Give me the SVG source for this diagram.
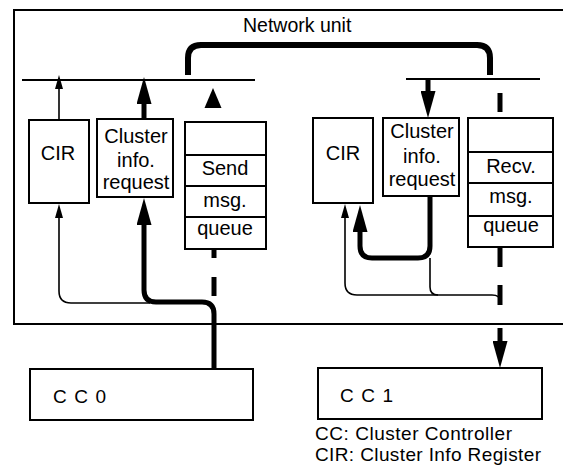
<svg xmlns="http://www.w3.org/2000/svg" width="563" height="465" viewBox="0 0 563 465">
  <style>
    .box { fill: #fff; stroke: #000; stroke-width: 2; }
    .frame { fill: none; stroke: #000; stroke-width: 2; }
    .bus { stroke: #000; stroke-width: 2; fill: none; }
    .thin { stroke: #000; stroke-width: 1.6; fill: none; }
    .thick { stroke: #000; stroke-width: 5; fill: none; }
    .net { stroke: #000; stroke-width: 6; fill: none; stroke-linecap: butt; }
    .lbl { font-family: "Liberation Sans", Arial, sans-serif; font-size: 20px; fill: #000; }
    .mid { text-anchor: middle; }
    .cc { letter-spacing: 7.5px; font-size: 19px; }
    .key { font-size: 19px; }
  </style>
  <defs>
    <marker id="headThin" viewBox="0 0 14 8" refX="0" refY="4" markerWidth="14" markerHeight="8" markerUnits="userSpaceOnUse" orient="auto">
      <path d="M0,0 L14,4 L0,8 z" fill="#000"/>
    </marker>
    <marker id="headThick" viewBox="0 0 27 15" refX="0" refY="7.5" markerWidth="27" markerHeight="15" markerUnits="userSpaceOnUse" orient="auto">
      <path d="M0,0 L27,7.5 L0,15 z" fill="#000"/>
    </marker>
  </defs>

  <!-- network unit enclosure -->
  <g id="network-unit">
    <path class="frame" d="M566,10 H14 V324 H566"/>
    <text class="lbl" x="243" y="32" style="font-size:19.5px">Network unit</text>
    <line class="bus" x1="22" y1="80" x2="255" y2="80"/>
    <line class="bus" x1="406" y1="79" x2="540" y2="79"/>
  </g>

  <!-- cluster 0 side -->
  <g id="cir0">
    <rect class="box" x="29" y="120" width="60" height="83"/>
    <text class="lbl mid" x="58" y="160">CIR</text>
  </g>
  <g id="req0">
    <rect class="box" x="97" y="119" width="76" height="78"/>
    <text class="lbl mid" x="136" y="143">Cluster</text>
    <text class="lbl mid" x="136" y="167">info.</text>
    <text class="lbl mid" x="136" y="189">request</text>
  </g>
  <g id="sendq">
    <rect class="box" x="185" y="122" width="81" height="127"/>
    <line class="bus" x1="185" y1="155" x2="266" y2="155"/>
    <line class="bus" x1="185" y1="186" x2="266" y2="186"/>
    <line class="bus" x1="185" y1="217" x2="266" y2="217"/>
    <text class="lbl mid" x="225" y="175">Send</text>
    <text class="lbl mid" x="225" y="207">msg.</text>
    <text class="lbl mid" x="225" y="235">queue</text>
  </g>

  <!-- cluster 1 side -->
  <g id="cir1">
    <rect class="box" x="313" y="118" width="60" height="85"/>
    <text class="lbl mid" x="343" y="160">CIR</text>
  </g>
  <g id="req1">
    <rect class="box" x="383" y="118" width="76" height="78"/>
    <text class="lbl mid" x="422" y="138">Cluster</text>
    <text class="lbl mid" x="422" y="163">info.</text>
    <text class="lbl mid" x="422" y="186">request</text>
  </g>
  <g id="recvq">
    <rect class="box" x="468" y="118" width="85" height="129"/>
    <line class="bus" x1="468" y1="152" x2="553" y2="152"/>
    <line class="bus" x1="468" y1="183" x2="553" y2="183"/>
    <line class="bus" x1="468" y1="216" x2="553" y2="216"/>
    <text class="lbl mid" x="511" y="173">Recv.</text>
    <text class="lbl mid" x="511" y="203">msg.</text>
    <text class="lbl mid" x="511" y="232">queue</text>
  </g>

  <!-- cluster controllers -->
  <g id="cc0">
    <rect class="box" x="30" y="369" width="223" height="51"/>
    <text class="lbl cc" x="53" y="403">CC0</text>
  </g>
  <g id="cc1">
    <rect class="box" x="318" y="368" width="224" height="51"/>
    <text class="lbl cc" x="340" y="402">CC1</text>
  </g>

  <g id="legend">
    <text class="lbl key" x="315" y="440" textLength="197">CC: Cluster Controller</text>
    <text class="lbl key" x="315" y="461" textLength="226">CIR: Cluster Info Register</text>
  </g>

  <!-- connectors -->
  <g id="connectors">
    <!-- network link between the two buses -->
    <path class="net" d="M188,75 V58 Q188,45 201,45 H477 Q490,45 490,58 V75"/>

    <!-- sending side -->
    <line class="thin" x1="59" y1="120" x2="59" y2="89" marker-end="url(#headThin)"/>
    <line class="thick" x1="144" y1="119" x2="144" y2="104" marker-end="url(#headThick)"/>
    <path d="M213,88 L204.5,108 L221.5,108 z" fill="#000"/>
    <line class="thick" x1="214" y1="249" x2="214" y2="258"/>
    <line class="thick" x1="214" y1="277" x2="214" y2="296"/>
    <path class="thick" d="M214,369 V314 Q214,302 202,302 H156 Q144,302 144,290 V225" marker-end="url(#headThick)"/>
    <path class="thin" d="M150,303 H71 Q59,303 59,291 V218" marker-end="url(#headThin)"/>

    <!-- receiving side -->
    <line class="thick" x1="428" y1="79" x2="428" y2="91" marker-end="url(#headThick)"/>
    <line class="thick" x1="500" y1="93" x2="500" y2="112"/>
    <line class="thick" x1="500" y1="247" x2="500" y2="267"/>
    <line class="thick" x1="500" y1="285" x2="500" y2="305"/>
    <line class="thick" x1="500" y1="328" x2="500" y2="341" marker-end="url(#headThick)"/>
    <path class="thick" d="M430,196 V246 Q430,258 418,258 H372 Q360,258 360,246 V232" marker-end="url(#headThick)"/>
    <path class="thin" d="M500,301 Q500,295 492,295 H357 Q345,295 345,283 V218" marker-end="url(#headThin)"/>
    <path class="thin" d="M430,258 V287 Q430,295 438,295"/>
  </g>
</svg>
